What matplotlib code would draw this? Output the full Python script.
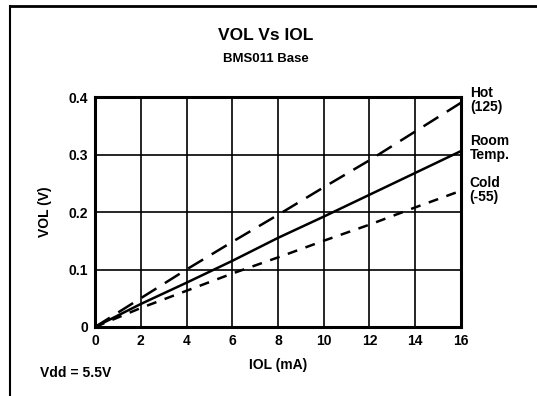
import matplotlib
matplotlib.use('Agg')
import matplotlib.pyplot as plt
from matplotlib.lines import Line2D

plt.rcParams['font.family'] = ['Liberation Sans', 'DejaVu Sans']
plt.rcParams['font.weight'] = 'bold'

# VOL vs IOL at three temperatures
iol = [0, 2, 4, 6, 8, 10, 12, 14, 16]
vol_hot = [0, 0.050, 0.100, 0.148, 0.195, 0.243, 0.290, 0.340, 0.390]
vol_room = [0, 0.040, 0.077, 0.115, 0.155, 0.192, 0.230, 0.268, 0.306]
vol_cold = [0, 0.033, 0.063, 0.093, 0.121, 0.150, 0.178, 0.208, 0.237]

xticks = [0, 2, 4, 6, 8, 10, 12, 14, 16]
yticks = [0, 0.1, 0.2, 0.3, 0.4]
ytick_labels = ['0', '0.1', '0.2', '0.3', '0.4']

W, H = 537, 396
fig = plt.figure(figsize=(W / 100, H / 100), dpi=100)
ax = fig.add_axes([95 / W, 1 - 327 / H, (461 - 95) / W, (327 - 97) / H])

ax.plot(iol, vol_hot, color='black', lw=1.8, dashes=(7, 4))
ax.plot(iol, vol_room, color='black', lw=1.8)
ax.plot(iol, vol_cold, color='black', lw=1.8, dashes=(4, 3.5))

ax.set_xlim(0, 16)
ax.set_ylim(0, 0.4)
ax.set_xticks(xticks)
ax.set_xticklabels([str(v) for v in xticks], fontsize=10, fontweight='bold')
ax.set_yticks(yticks)
ax.set_yticklabels(ytick_labels, fontsize=10, fontweight='bold')
ax.tick_params(length=0, pad=5)
ax.grid(True, color='black', lw=1.2)
for s in ax.spines.values():
    s.set_linewidth(2.2)

ax.set_xlabel('IOL (mA)', fontsize=10, fontweight='bold', labelpad=7)
ax.set_ylabel('VOL (V)', fontsize=10, fontweight='bold', labelpad=12)

fig.text(266 / W, 1 - 36 / H, 'VOL Vs IOL', ha='center', va='center',
         fontsize=12.5, fontweight='bold')
fig.text(266 / W, 1 - 59 / H, 'BMS011 Base', ha='center', va='center',
         fontsize=9.5, fontweight='bold')
fig.text(40 / W, 1 - 373 / H, 'Vdd = 5.5V', ha='left', va='center',
         fontsize=10, fontweight='bold')

# curve labels at the right edge
fig.text(470 / W, 1 - 100 / H, 'Hot\n(125)', ha='left', va='center',
         fontsize=10, fontweight='bold', linespacing=0.95)
fig.text(470 / W, 1 - 148 / H, 'Room\nTemp.', ha='left', va='center',
         fontsize=10, fontweight='bold', linespacing=0.95)
fig.text(469 / W, 1 - 190 / H, 'Cold\n(-55)', ha='left', va='center',
         fontsize=10, fontweight='bold', linespacing=0.95)

# page frame: top and left rules
fig.add_artist(Line2D([10 / W, 1], [1 - 6 / H, 1 - 6 / H], color='black', lw=2,
                      transform=fig.transFigure))
fig.add_artist(Line2D([10 / W, 10 / W], [0, 1 - 6 / H], color='black', lw=1.5,
                      transform=fig.transFigure))

fig.savefig('out.png', dpi=100)
